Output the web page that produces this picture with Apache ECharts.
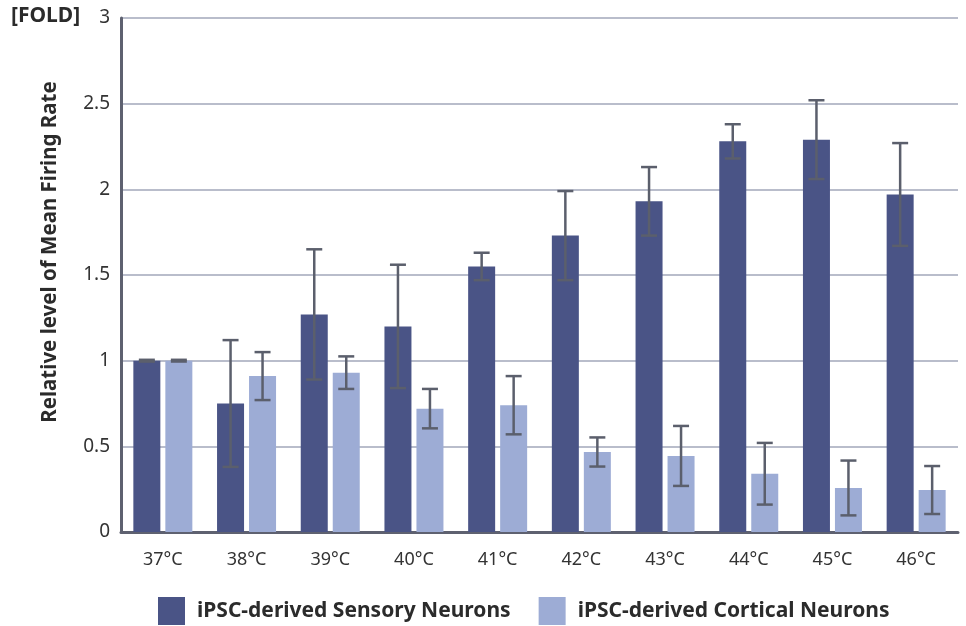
<!DOCTYPE html>
<html>
<head>
<meta charset="utf-8">
<script src="https://cdn.jsdelivr.net/npm/echarts@6/dist/echarts.min.js"></script>
<style>
  html, body { margin: 0; padding: 0; background: #fff; }
  #chart { width: 966px; height: 626px; }
</style>
</head>
<body>
<div id="chart"></div>
<script>
const temps = ['37°C', '38°C', '39°C', '40°C', '41°C', '42°C', '43°C', '44°C', '45°C', '46°C']
const sensory = [1.0, 0.75, 1.27, 1.2, 1.55, 1.73, 1.93, 2.28, 2.29, 1.97]
const sensoryErr = [0.005, 0.37, 0.38, 0.36, 0.08, 0.26, 0.2, 0.1, 0.23, 0.3]
const cortical = [1.0, 0.91, 0.93, 0.72, 0.74, 0.467, 0.444, 0.34, 0.257, 0.245]
const corticalErr = [0.005, 0.14, 0.095, 0.115, 0.17, 0.085, 0.175, 0.18, 0.16, 0.14]

const FONT = '"Noto Sans", sans-serif'
const BAR_W = 27
const GAP = 5
const ERR_COLOR = '#5b5f6c'

// error bar renderer, shift = horizontal offset from category centre
function errRenderer (vals, errs, shift) {
  return function (params, api) {
    const i = api.value(0)
    const v = vals[i]
    const e = errs[i]
    const hi = api.coord([i, v + e])
    const lo = api.coord([i, v - e])
    const x = hi[0] + shift
    const cap = 8
    const style = { stroke: ERR_COLOR, lineWidth: 2.5 }
    return {
      type: 'group',
      children: [
        { type: 'line', shape: { x1: x, y1: hi[1], x2: x, y2: lo[1] }, style },
        { type: 'line', shape: { x1: x - cap, y1: hi[1], x2: x + cap, y2: hi[1] }, style },
        { type: 'line', shape: { x1: x - cap, y1: lo[1], x2: x + cap, y2: lo[1] }, style }
      ]
    }
  }
}

const idx = temps.map((t, i) => [i])
const off = (BAR_W + GAP) / 2

const chart = echarts.init(document.getElementById('chart'))
chart.setOption({
  animation: false,
  textStyle: { fontFamily: FONT },
  grid: { left: 121, right: 8, top: 18, bottom: 94 },
  legend: {
    top: 597,
    left: 158,
    icon: 'rect',
    itemWidth: 27,
    itemHeight: 28,
    itemGap: 28,
    padding: 0,
    data: ['iPSC-derived Sensory Neurons', 'iPSC-derived Cortical Neurons'],
    textStyle: { fontFamily: FONT, fontSize: 21, fontWeight: 'bold', color: '#2b2b2b', padding: [0, 0, 0, 7] }
  },
  graphic: [
    {
      type: 'text',
      left: 11,
      top: 6,
      style: { text: '[FOLD]', fontFamily: FONT, fontSize: 21, fontWeight: 'bold', fill: '#2b2b2b' }
    },
    {
      type: 'text',
      x: 50,
      y: 252,
      rotation: Math.PI / 2,
      style: {
        text: 'Relative level of Mean Firing Rate',
        fontFamily: FONT,
        fontSize: 20.5,
        fontWeight: 'bold',
        fill: '#2b2b2b',
        align: 'center',
        verticalAlign: 'middle'
      }
    }
  ],
  xAxis: {
    type: 'category',
    data: temps,
    axisLine: { lineStyle: { color: '#5e6170', width: 3 } },
    axisTick: { show: false },
    axisLabel: { fontSize: 18, color: '#333', margin: 19, fontFamily: FONT }
  },
  yAxis: {
    type: 'value',
    min: 0,
    max: 3,
    interval: 0.5,
    axisLine: { show: true, lineStyle: { color: '#5e6170', width: 3 } },
    axisTick: { show: false },
    axisLabel: { fontSize: 19, color: '#333', margin: 11, fontFamily: FONT },
    splitLine: { lineStyle: { color: '#b9bdcb', width: 2 } }
  },
  series: [
    {
      name: 'iPSC-derived Sensory Neurons',
      type: 'bar',
      data: sensory,
      barWidth: BAR_W,
      barGap: (GAP / BAR_W * 100) + '%',
      itemStyle: { color: '#4a5486' }
    },
    {
      name: 'iPSC-derived Cortical Neurons',
      type: 'bar',
      data: cortical,
      barWidth: BAR_W,
      itemStyle: { color: '#9dacd5' }
    },
    {
      type: 'custom',
      data: idx,
      renderItem: errRenderer(sensory, sensoryErr, -off),
      z: 10,
      silent: true
    },
    {
      type: 'custom',
      data: idx,
      renderItem: errRenderer(cortical, corticalErr, off),
      z: 10,
      silent: true
    }
  ]
})
</script>
</body>
</html>
